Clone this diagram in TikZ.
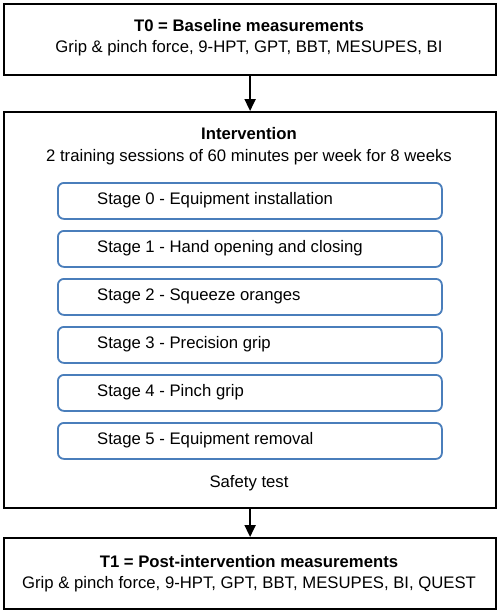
\documentclass[tikz,border=0pt]{standalone}
\usepackage{fontspec}
\setmainfont{Liberation Sans}
\usetikzlibrary{arrows.meta}
\definecolor{stageblue}{RGB}{74,126,187}
\begin{document}
\begin{tikzpicture}[x=1pt,y=-1pt,
  outer/.style={draw=black,line width=2.2pt,fill=white},
  stagebox/.style={draw=stageblue,line width=1.8pt,rounded corners=6pt,fill=white},
  stagetext/.style={anchor=west,font=\fontsize{16.7}{20}\selectfont,inner sep=0pt},
  maintext/.style={font=\fontsize{16.7}{20}\selectfont,inner sep=0pt},
  titletext/.style={font=\fontsize{16.7}{20}\selectfont\bfseries,inner sep=0pt},
  flow/.style={draw=black,line width=2pt,-{Triangle[length=12pt,width=11pt]}}]
\useasboundingbox (0,0) rectangle (498,611);
% top box
\node[outer,minimum width=492pt,minimum height=71pt,anchor=north west,inner sep=0pt] (t0) at (3,3) {};
\node[titletext] (t0title) at (249,26) {T0 = Baseline measurements};
\node[maintext] (t0line) at (249,48) {Grip \& pinch force, 9-HPT, GPT, BBT, MESUPES, BI};
% intervention box
\node[outer,minimum width=492pt,minimum height=396pt,anchor=north west,inner sep=0pt] (iv) at (3,111) {};
\node[titletext] (ivtitle) at (249,134) {Intervention};
\node[maintext] (ivline) at (249,157) {2 training sessions of 60 minutes per week for 8 weeks};
% stages
\foreach \i/\txt in {0/Stage 0 - Equipment installation,
                      1/Stage 1 - Hand opening and closing,
                      2/Stage 2 - Squeeze oranges,
                      3/Stage 3 - Precision grip,
                      4/Stage 4 - Pinch grip,
                      5/Stage 5 - Equipment removal}{
  \node[stagebox,minimum width=384pt,minimum height=36pt,anchor=north west,inner sep=0pt] (s\i) at (57,182+48*\i) {};
  \node[stagetext] (s\i text) at (97,200+48*\i) {\txt};
}
\node[maintext] (safety) at (249,483) {Safety test};
% bottom box
\node[outer,minimum width=492pt,minimum height=71pt,anchor=north west,inner sep=0pt] (t1) at (3,537) {};
\node[titletext] (t1title) at (249,562) {T1 = Post-intervention measurements};
\node[maintext] (t1line) at (249,584) {Grip \& pinch force, 9-HPT, GPT, BBT, MESUPES, BI, QUEST};
% arrows
\draw[flow] (t0.south) -- (iv.north);
\draw[flow] (iv.south) -- (t1.north);
\end{tikzpicture}
\end{document}
